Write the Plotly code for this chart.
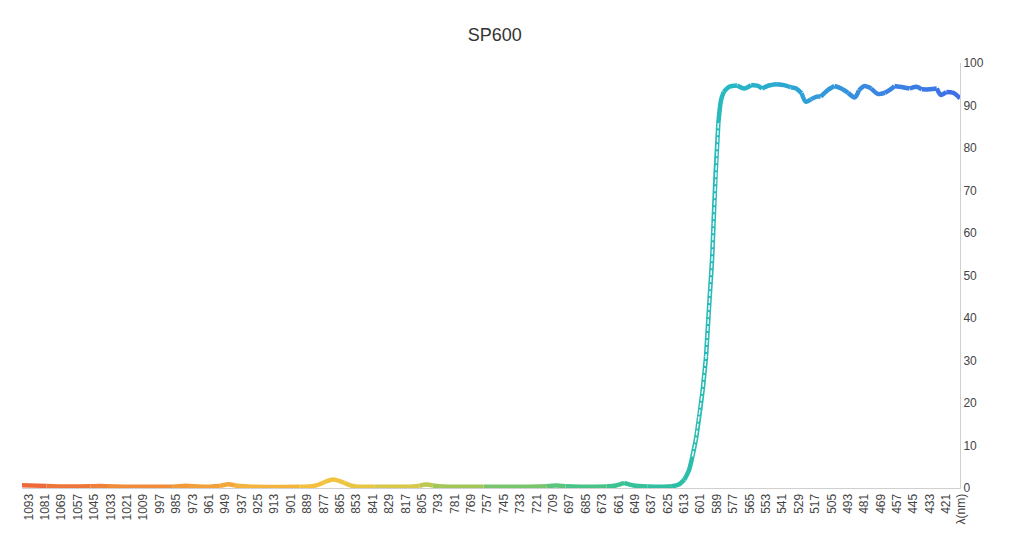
import plotly.graph_objects as go

# ---- data (wavelength nm, transmission %) ----
wavelength = [411, 416, 421, 425, 428, 433, 439, 443, 448, 453, 459, 461, 466, 471,
              476, 481, 485, 488, 493, 498, 503, 508, 513, 516, 520, 524, 527, 531,
              535, 540, 545, 551, 556, 559, 564, 569, 574, 580, 584, 586, 588, 590,
              591.5, 592.5, 594, 595.5, 597, 599.5, 602, 604.5, 607, 609.5, 613, 617,
              622, 630, 640, 650, 657, 663, 670, 685, 700, 707, 714, 730, 760, 790,
              797, 802, 807, 815, 840, 855, 862, 870, 877, 884, 895, 930, 942, 947,
              953, 965, 975, 980, 988, 1020, 1035, 1041, 1048, 1065, 1080, 1098]
transmission = [91.7, 93.0, 93.2, 92.5, 94.0, 93.8, 93.8, 94.4, 94.0, 94.3, 94.6, 94.0,
                93.0, 92.7, 94.0, 94.6, 93.6, 91.9, 93.0, 94.0, 94.6, 93.6, 92.1, 92.1,
                91.5, 90.9, 92.9, 94.0, 94.3, 94.8, 95.0, 94.7, 94.0, 94.6, 94.8, 94.0,
                94.7, 94.4, 93.2, 91.3, 85.8, 74.0, 62.3, 54.4, 46.6, 38.8, 30.9, 23.0,
                16.8, 11.3, 7.4, 4.2, 1.9, 0.8, 0.4, 0.3, 0.35, 0.6, 1.2, 0.6, 0.35,
                0.3, 0.4, 0.6, 0.4, 0.3, 0.3, 0.35, 0.6, 0.8, 0.5, 0.3, 0.3, 0.4, 1.2,
                2.0, 1.3, 0.5, 0.3, 0.3, 0.6, 0.9, 0.5, 0.3, 0.45, 0.5, 0.3, 0.3, 0.4,
                0.5, 0.4, 0.35, 0.5, 0.65]

title_text = "SP600"
x_name = "λ(nm)"
x_ticks = list(range(421, 1094, 12))
y_ticks = list(range(0, 101, 10))

# colour ramp along wavelength (visual map)
ramp_pos = [411, 470, 530, 580, 620, 680, 760, 830, 880, 960, 1040, 1098]
ramp_col = ["#3d6fe8", "#3a86e2", "#2ea3d6", "#26b8c2", "#2bbfa6", "#45c38a",
            "#8cc65e", "#e0c847", "#f4c33f", "#f3a23a", "#f0823a", "#ee6439"]


def hex2rgb(h):
    h = h.lstrip("#")
    return tuple(int(h[i:i + 2], 16) for i in (0, 2, 4))


def ramp(w):
    if w <= ramp_pos[0]:
        return ramp_col[0]
    for i in range(len(ramp_pos) - 1):
        a, b = ramp_pos[i], ramp_pos[i + 1]
        if a <= w <= b:
            t = (w - a) / (b - a)
            c1, c2 = hex2rgb(ramp_col[i]), hex2rgb(ramp_col[i + 1])
            c = [round(c1[k] + (c2[k] - c1[k]) * t) for k in range(3)]
            return "rgb(%d,%d,%d)" % tuple(c)
    return ramp_col[-1]


fig = go.Figure()

n = len(wavelength)
step = 2
i = 0
while i < n - 1:
    j = min(i + step, n - 1)
    xs = wavelength[i:j + 1]
    ys = transmission[i:j + 1]
    mid = (xs[0] + xs[-1]) / 2
    fig.add_trace(go.Scatter(x=xs, y=ys, mode="lines",
                             line=dict(color=ramp(mid), width=4.5, shape="spline", smoothing=0.8),
                             hoverinfo="skip", showlegend=False))
    i = j

# hollow look of the steep edge
steep_x = [w for w, t in zip(wavelength, transmission) if 588 <= w <= 607]
steep_y = [t for w, t in zip(wavelength, transmission) if 588 <= w <= 607]
fig.add_trace(go.Scatter(x=steep_x, y=steep_y, mode="lines",
                         line=dict(color="white", width=1.4, dash="5px,2px"),
                         hoverinfo="skip", showlegend=False))

fig.update_layout(
    width=1011, height=557,
    margin=dict(l=14, r=59, t=55, b=77),
    paper_bgcolor="white", plot_bgcolor="white",
    font=dict(family="Liberation Sans, Arial, sans-serif", size=12, color="#444"),
    title=dict(text=title_text, x=0.504, xref="paper", xanchor="center",
               y=1 - 27 / 557, yanchor="middle",
               font=dict(size=18, color="#333", family="Liberation Sans, Arial, sans-serif")),
    showlegend=False,
    xaxis=dict(range=[1098, 411], tickmode="array", tickvals=x_ticks,
               ticktext=[str(v) for v in x_ticks], tickangle=-90,
               showgrid=False, zeroline=False, showline=True, linecolor="#d0d0d0",
               linewidth=1, ticks="", tickfont=dict(size=12, color="#444")),
    yaxis=dict(range=[0, 100], side="right", tickvals=y_ticks,
               showgrid=False, zeroline=False, showline=True, linecolor="#d0d0d0",
               linewidth=1, ticks="", tickfont=dict(size=12, color="#444")),
    annotations=[dict(text=x_name, xref="paper", yref="paper", x=1.0, y=0,
                      xanchor="center", yanchor="top", yshift=-4, textangle=-90,
                      showarrow=False, font=dict(size=12, color="#444"))],
)

fig.write_html("out.html")
